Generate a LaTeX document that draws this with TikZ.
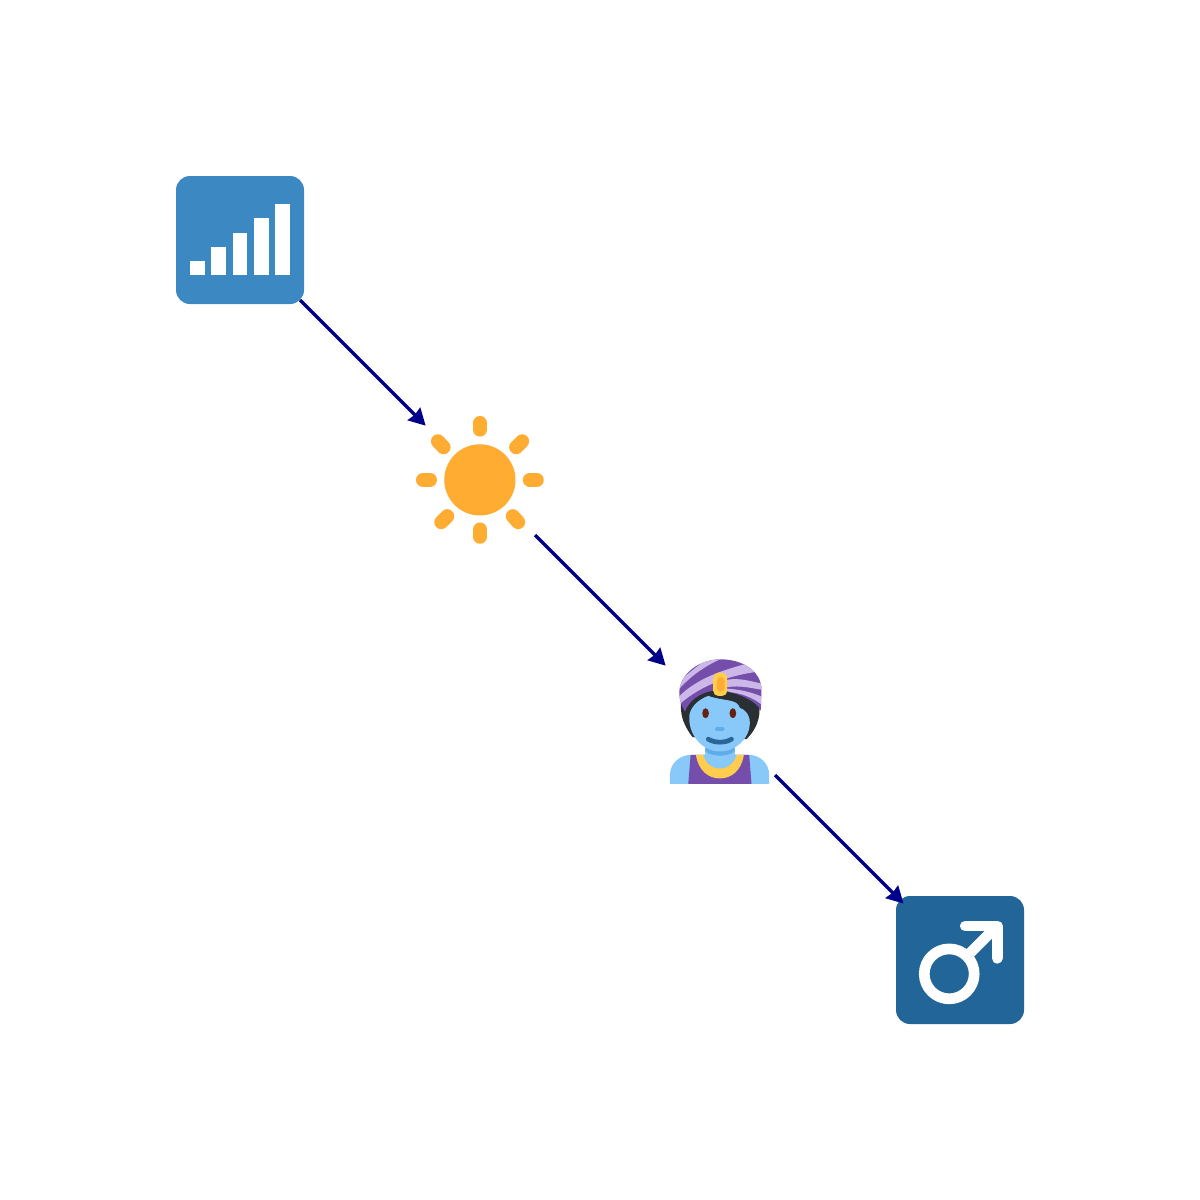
\documentclass[tikz,border=0pt]{standalone}
\usetikzlibrary{arrows.meta}
\definecolor{linkblue}{HTML}{00008B}
\definecolor{boxa}{HTML}{3B88C3}
\definecolor{boxb}{HTML}{226699}
\definecolor{sun}{HTML}{FFAC33}
\definecolor{skin}{HTML}{88C9F9}
\definecolor{skind}{HTML}{5DADEC}
\definecolor{vest}{HTML}{744EAA}
\definecolor{stripe}{HTML}{CBB8E9}
\definecolor{gold}{HTML}{FFCC4D}
\definecolor{hair}{HTML}{292F33}
\definecolor{eye}{HTML}{662113}
\definecolor{mouthd}{HTML}{2A6797}
\tikzset{
  hub/.style={circle,minimum size=1.556cm,inner sep=0pt,outer sep=0pt},
  link/.style={draw=linkblue,line width=1pt,-{Stealth[length=0.165cm,width=0.175cm,inset=0.012cm,fill=linkblue]}},
  ray/.style={draw=sun,line width=0.14cm,line cap=round},
  bar/.style={fill=white},
  mars/.style={draw=white,line width=0.107cm,line cap=round,line join=round}
}
\begin{document}
\begin{tikzpicture}[x=0.01cm,y=-0.01cm]
\useasboundingbox (0,0) rectangle (1200,1200);
\fill[white] (0,0) rectangle (1200,1200);

% signal icon
\fill[boxa,rounded corners=0.14cm] (176,176) rectangle (304,304);
\begin{scope}[shift={(165,165)},x=0.003333cm,y=-0.003333cm]
\fill[bar] (75,288) rectangle (119,332);
\fill[bar] (139,246) rectangle (183,332);
\fill[bar] (203,203) rectangle (247,332);
\fill[bar] (267,160) rectangle (311,332);
\fill[bar] (331,118) rectangle (375,332);
\end{scope}

% sun
\begin{scope}[shift={(400,400)},x=0.003333cm,y=-0.003333cm]
\fill[sun] (240,240) circle (107);
\draw[ray] (240,69)--(240,89);
\draw[ray] (240,389)--(240,411);
\draw[ray] (69,240)--(90,240);
\draw[ray] (390,240)--(411,240);
\draw[ray] (114,124)--(131,142);
\draw[ray] (367,124)--(349,142);
\draw[ray] (124,367)--(142,349);
\draw[ray] (355,367)--(339,349);
\end{scope}

% person with turban
\begin{scope}[shift={(650,640)},x=0.003333cm,y=-0.003333cm]
% shoulders, vest, necklace
\fill[skin] (60,432) -- (60,405) .. controls (60,370) and (90,345) .. (125,345) -- (295,345) .. controls (330,345) and (358,370) .. (358,405) -- (358,432) -- cycle;
\fill[vest] (115,432) -- (122,345) -- (298,345) -- (305,432) -- cycle;
\fill[gold] (138,345) -- (282,345) .. controls (275,392) and (245,416) .. (210,416) .. controls (175,416) and (145,392) .. (138,345) -- cycle;
\fill[skin] (160,345) -- (260,345) .. controls (253,370) and (235,386) .. (210,386) .. controls (185,386) and (167,370) .. (160,345) -- cycle;
% neck
\fill[skin] (166,310) rectangle (254,350);
\fill[skind] (166,325) -- (254,325) -- (254,334) .. controls (235,352) and (185,352) .. (166,334) -- cycle;
% hair
\fill[hair] (93,190) .. controls (100,130) and (320,130) .. (328,190) .. controls (334,235) and (318,270) .. (290,298) -- (128,292) .. controls (108,265) and (90,235) .. (93,190) -- cycle;
% face
\fill[skin] (118,235) .. controls (116,205) and (145,178) .. (175,168) .. controls (225,185) and (262,176) .. (270,204) .. controls (288,210) and (300,225) .. (300,250) .. controls (300,295) and (258,335) .. (210,335) .. controls (160,335) and (118,290) .. (118,235) -- cycle;
% turban
\fill[vest] (88,160) .. controls (88,100) and (150,58) .. (212,58) .. controls (280,58) and (335,95) .. (335,150) -- (333,212) .. controls (320,185) and (280,165) .. (215,150) .. controls (170,150) and (122,170) .. (105,215) .. controls (95,200) and (88,180) .. (88,160) -- cycle;
\begin{scope}
\clip (88,160) .. controls (88,100) and (150,58) .. (212,58) .. controls (280,58) and (335,95) .. (335,150) -- (333,212) .. controls (320,185) and (280,165) .. (215,150) .. controls (170,150) and (122,170) .. (105,215) .. controls (95,200) and (88,180) .. (88,160) -- cycle;
\fill[stripe] (85,130) .. controls (120,90) and (160,70) .. (170,55) -- (218,55) .. controls (170,75) and (125,105) .. (85,150) -- cycle;
\fill[stripe] (85,172) .. controls (140,115) and (220,90) .. (295,70) -- (325,95) .. controls (250,105) and (160,130) .. (90,192) -- cycle;
\fill[stripe] (230,120) .. controls (270,112) and (305,125) .. (340,132) -- (340,150) .. controls (305,145) and (270,135) .. (230,142) -- cycle;
\fill[stripe] (230,146) .. controls (270,148) and (310,158) .. (340,172) -- (340,198) .. controls (310,172) and (270,158) .. (230,156) -- cycle;
\end{scope}
% jewel
\fill[gold,rounded corners=0.05cm] (190,98) rectangle (232,168);
\fill[sun,rounded corners=0.035cm] (201,112) rectangle (224,155);
% features
\fill[eye] (167,220) ellipse (10 and 15);
\fill[eye] (249,220) ellipse (10 and 15);
\fill[skind,rounded corners=0.015cm] (195,262) rectangle (224,273);
\draw[mouthd,line width=0.047cm,line cap=round] (175,298) .. controls (195,310) and (225,310) .. (245,298);
\end{scope}

% male sign
\fill[boxb,rounded corners=0.14cm] (896,896) rectangle (1024,1024);
\begin{scope}[shift={(880,880)},x=0.003333cm,y=-0.003333cm]
\draw[mars] (208,282) circle (75);
\draw[mars,line cap=butt] (265,225) -- (352,138);
\draw[mars] (256,138) -- (352,138) -- (352,235);
\end{scope}

% hub nodes and connectors
\node[hub] (signal) at (240,240) {};
\node[hub] (sunny) at (480,480) {};
\node[hub] (genie) at (720,720) {};
\node[hub] (male) at (960,960) {};
\draw[link,shorten <=0.07cm,shorten >=-0.01cm] (signal) -- (sunny);
\draw[link,shorten >=-0.01cm] (sunny) -- (genie);
\draw[link,shorten >=0.02cm] (genie) -- (male);
\end{tikzpicture}
\end{document}
